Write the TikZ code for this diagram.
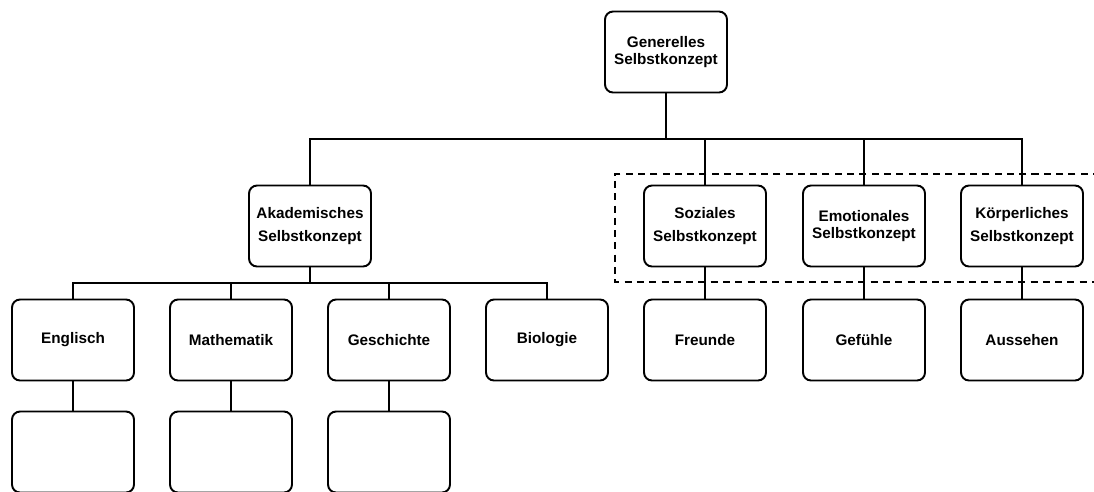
\documentclass[tikz,border=0pt]{standalone}
\usepackage{fontspec}
\setmainfont{Liberation Sans}
\begin{document}
\begin{tikzpicture}[
  x=0.02cm, y=-0.02cm,
  konzept/.style={draw, line width=1.1pt, rounded corners=0.16cm, minimum width=2.44cm, minimum height=1.62cm, align=center, font=\bfseries\fontsize{8.7}{13}\selectfont},
  eng/.style={font=\bfseries\fontsize{8.7}{9.8}\selectfont},
  link/.style={line width=1.1pt},
  gruppe/.style={line width=1.1pt, dash pattern=on 4pt off 3pt},
]
%general params
\def\busA{45.5} %bus under top node
\def\busB{15.5} %bus under academic node

\useasboundingbox (0,0) rectangle (1094,491);

%top
\node[konzept, eng] (gen) at (666,52) {Generelles\\Selbstkonzept};

%level 2
\node[konzept] (akad) at (310,226) {Akademisches\\Selbstkonzept};
\node[konzept] (soz) at (705,226) {Soziales\\Selbstkonzept};
\node[konzept, eng] (emo) at (864,226) {Emotionales\\Selbstkonzept};
\node[konzept] (koerp) at (1022,226) {K\"orperliches\\Selbstkonzept};

%level 3
\node[konzept] (engl) at (73,340) {Englisch};
\node[konzept] (mathe) at (231,340) {Mathematik};
\node[konzept] (gesch) at (389,340) {Geschichte};
\node[konzept] (bio) at (547,340) {Biologie};
\node[konzept] (freunde) at (705,340) {Freunde};
\node[konzept] (gefuehle) at (864,340) {Gef\"uhle};
\node[konzept] (aussehen) at (1022,340) {Aussehen};

%level 4 (empty)
\node[konzept] (englB) at (73,452) {};
\node[konzept] (matheB) at (231,452) {};
\node[konzept] (geschB) at (389,452) {};

%connectors
\foreach \k in {akad,soz,emo,koerp}
  \draw[link] (gen.south) -- +(0,\busA) -| (\k.north);
\foreach \k in {engl,mathe,gesch,bio}
  \draw[link] (akad.south) -- +(0,\busB) -| (\k.north);
\draw[link] (soz) -- (freunde);
\draw[link] (emo) -- (gefuehle);
\draw[link] (koerp) -- (aussehen);
\draw[link] (engl) -- (englB);
\draw[link] (mathe) -- (matheB);
\draw[link] (gesch) -- (geschB);

%group
\draw[gruppe] (1100,174) -- (615,174) -- (615,282) -- (1100,282);

\end{tikzpicture}
\end{document}
